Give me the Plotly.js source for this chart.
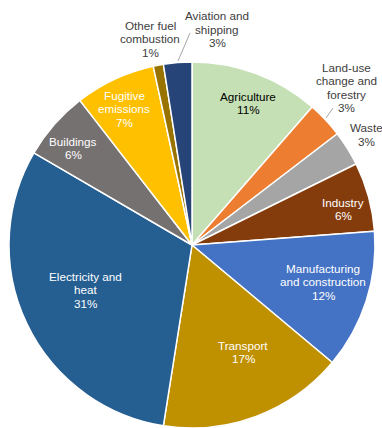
<!DOCTYPE html>
<html>
<head>
<meta charset="utf-8">
<script src="https://cdn.plot.ly/plotly-3.0.1.min.js"></script>
<style>html,body{margin:0;padding:0;background:#fff;}#chart{width:382px;height:428px;}</style>
</head>
<body>
<div id="chart"></div>
<script>
// Sectors, clockwise from 12 o'clock
var categories = ["Agriculture", "Land-use change and forestry", "Waste", "Industry",
  "Manufacturing and construction", "Transport", "Electricity and heat", "Buildings",
  "Fugitive emissions", "Other fuel combustion", "Aviation and shipping"];
// Label lines as wrapped on the chart
var labelLines = [["Agriculture"], ["Land-use", "change and", "forestry"], ["Waste"], ["Industry"],
  ["Manufacturing", "and construction"], ["Transport"], ["Electricity and", "heat"], ["Buildings"],
  ["Fugitive", "emissions"], ["Other fuel", "combustion"], ["Aviation and", "shipping"]];
// Share of emissions (%)
var shares = [11.4, 3.2, 3.1, 6.1, 12.3, 16.4, 30.9, 6.1, 7.1, 0.9, 2.5];
// Percent labels as printed on the chart
var pctLabels = ["11%", "3%", "3%", "6%", "12%", "17%", "31%", "6%", "7%", "1%", "3%"];
var colors = ["#C5E0B4", "#ED7D31", "#A5A5A5", "#843C0C", "#4472C4", "#BF9000",
  "#255E91", "#767171", "#FFC000", "#997300", "#264478"];
var outsideIdx = [1, 2, 9, 10];

var W = 382, H = 428;
function px(x) { return x / W; }
function py(y) { return 1 - y / H; }

var trace = {
  type: "pie",
  labels: categories,
  values: shares,
  text: pctLabels,
  textinfo: "none",
  sort: false,
  direction: "clockwise",
  rotation: 0,
  marker: { colors: colors, line: { color: "#FFFFFF", width: 1.5 } },
  domain: { x: [px(9), px(375)], y: [py(428), py(62)] },
  hoverinfo: "label+text",
  showlegend: false
};

// Label block placement (layout only): centre x and first-line y, in pixels
var labelPos = [
  { x: 248.5, y: 96 },   // Agriculture
  { x: 346, y: 67 },     // Land-use
  { x: 366, y: 127.5 },  // Waste
  { x: 343, y: 202 },    // Industry
  { x: 323, y: 268 },    // Manufacturing
  { x: 243, y: 345 },    // Transport
  { x: 85.5, y: 276 },   // Electricity
  { x: 73, y: 141 },     // Buildings
  { x: 124, y: 95 },     // Fugitive
  { x: 150, y: 25 },     // Other fuel
  { x: 217, y: 15.5 }    // Aviation
];
var lineStep = 13.6;

var annotations = [];
categories.forEach(function (c, i) {
  var lines = labelLines[i].concat([pctLabels[i]]);
  var col = outsideIdx.indexOf(i) >= 0 ? "#404040" : (i === 0 ? "#000000" : "#FFFFFF");
  lines.forEach(function (t, k) {
    annotations.push({
      xref: "paper", yref: "paper",
      x: px(labelPos[i].x), y: py(labelPos[i].y + k * lineStep),
      xanchor: "center", yanchor: "middle",
      text: t, showarrow: false,
      font: { family: "Liberation Sans, Arial, sans-serif", size: 11.7, color: col }
    });
  });
});

var leaderLines = [
  { x0: 178, y0: 61, x1: 190, y1: 33 },
  { x0: 326, y0: 118, x1: 333, y1: 108 }
];
var shapes = leaderLines.map(function (l) {
  return { type: "line", xref: "paper", yref: "paper",
    x0: px(l.x0), y0: py(l.y0), x1: px(l.x1), y1: py(l.y1),
    line: { color: "#A6A6A6", width: 1 } };
});

var layout = {
  width: W, height: H,
  margin: { l: 0, r: 0, t: 0, b: 0 },
  paper_bgcolor: "#FFFFFF",
  showlegend: false,
  annotations: annotations,
  shapes: shapes,
  font: { family: "Liberation Sans, Arial, sans-serif" }
};

Plotly.newPlot("chart", [trace], layout, { displayModeBar: false, staticPlot: true });
</script>
</body>
</html>
